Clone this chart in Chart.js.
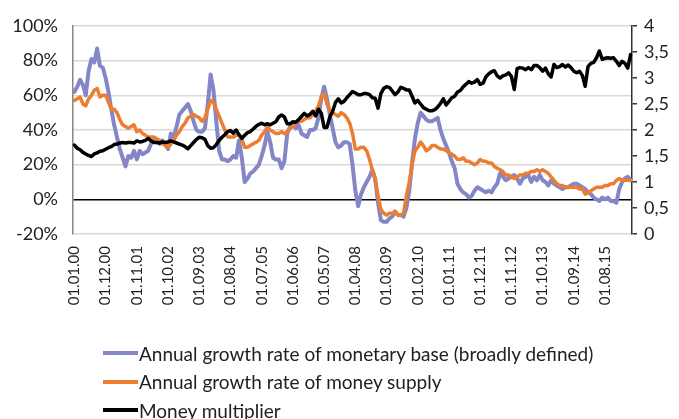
<!DOCTYPE html>
<html>
<head>
<meta charset="utf-8">
<script src="https://cdn.jsdelivr.net/npm/chart.js@4"></script>
<style>
  body { margin: 0; background: #fff; }
  #wrap { position: relative; width: 679px; height: 419px; overflow: hidden; }
  #legend { position: absolute; left: 103px; top: 339px; font-family: Lato, sans-serif; font-size: 19px; color: #222; }
  .item { height: 28.5px; display: flex; align-items: center; white-space: nowrap; }
  .swatch { width: 35px; height: 4px; margin-right: 1px; }
</style>
</head>
<body>
<div id="wrap">
  <canvas id="chart" width="679" height="419"></canvas>
  <div id="legend"></div>
</div>
<script>
// monthly observations, Jan 2000 - May 2016
var seriesNames = [
    "Annual growth rate of monetary base (broadly defined)",
    "Annual growth rate of money supply",
    "Money multiplier"
];
var seriesColors = ["#8486c6", "#ed7d31", "#000000"];

var baseGrowth = [
    62,65,69,66,60,74,81,79,87,77,
    76,70,62,52,43,36,29,24,19,25,
    24,28,23,28,26,27,28,32,35,33,
    32,34,32,29,38,36,42,49,51,53,
    55,51,45,40,39,39,41,55,72,63,
    45,28,23,23,22,23,25,24,34,24,
    10,12,15,16,18,20,25,31,39,33,
    24,23,23,18,22,38,42,43,41,43,
    38,37,36,40,40,41,47,58,65,58,
    49,41,33,30,31,33,33,32,20,5,
    -4,3,7,10,13,17,12,-2,-12,-13,
    -13,-11,-10,-7,-9,-9,-10,-5,5,21,
    35,44,50,48,46,45,45,46,47,40,
    35,31,27,22,18,9,6,4,3,1,
    2,5,7,6,5,4,5,4,7,9,
    15,13,11,12,13,14,12,9,12,13,
    14,10,13,11,14,11,10,8,11,9,
    8,7,6,7,7,8,9,9,8,7,
    6,4,3,1,0,-1,1,0,1,-1,
    -1,-2,6,10,12,13,11
];

var moneyGrowth = [
    57,58,59,55,54,58,60,63,64,59,
    60,60,56,52,52,50,46,43,42,41,
    42,43,39,40,38,37,36,36,36,35,
    34,32,31,30,32,34,37,39,42,44,
    47,48,49,48,47,45,47,52,57,56,
    52,48,44,40,36,36,36,37,37,35,
    30,30,31,32,33,34,37,39,42,40,
    39,38,38,39,38,39,41,42,44,45,
    45,46,47,47,49,51,54,59,61,55,
    51,50,49,48,50,49,47,44,38,29,
    29,30,30,28,23,17,11,2,-6,-8,
    -9,-8,-8,-7,-9,-9,-8,2,10,20,
    28,30,33,31,28,29,31,31,30,29,
    29,28,27,26,25,23,23,24,22,22,
    21,20,21,23,22,22,21,21,19,18,
    17,16,14,14,13,12,13,14,14,15,
    15,16,16,17,16,17,16,15,13,11,
    9,8,8,7,7,7,7,7,6,6,
    3,4,5,6,7,7,7,8,8,9,
    9,11,12,11,11,11,11
];

var multiplier = [
    1.71,1.65,1.62,1.57,1.54,1.51,1.49,1.54,1.56,1.59,
    1.60,1.63,1.66,1.68,1.72,1.73,1.75,1.76,1.75,1.76,
    1.76,1.75,1.79,1.77,1.78,1.80,1.84,1.79,1.76,1.76,
    1.75,1.77,1.76,1.77,1.79,1.77,1.75,1.73,1.71,1.68,
    1.64,1.70,1.76,1.82,1.86,1.85,1.82,1.70,1.65,1.66,
    1.72,1.80,1.86,1.91,1.97,1.99,1.94,2.00,1.91,1.84,
    1.90,1.95,1.97,2.02,2.07,2.11,2.13,2.10,2.12,2.10,
    2.13,2.16,2.25,2.29,2.25,2.12,2.12,2.16,2.15,2.20,
    2.26,2.32,2.27,2.30,2.36,2.27,2.40,2.32,2.05,2.05,
    2.25,2.36,2.53,2.60,2.52,2.55,2.62,2.68,2.74,2.71,
    2.68,2.68,2.70,2.70,2.68,2.62,2.61,2.42,2.70,2.80,
    2.83,2.82,2.75,2.68,2.73,2.82,2.80,2.77,2.77,2.65,
    2.52,2.57,2.50,2.43,2.40,2.37,2.37,2.39,2.44,2.51,
    2.60,2.48,2.55,2.62,2.65,2.73,2.76,2.83,2.88,2.93,
    2.90,2.92,2.97,2.88,2.90,3.02,3.08,3.12,3.14,3.04,
    3.00,3.04,3.06,3.10,3.03,2.78,3.18,3.20,3.19,3.16,
    3.20,3.16,3.24,3.24,3.20,3.13,3.19,3.08,3.02,3.26,
    3.20,3.22,3.26,3.21,3.25,3.20,3.13,3.10,3.13,3.05,
    2.84,3.22,3.28,3.30,3.39,3.52,3.36,3.38,3.39,3.38,
    3.39,3.32,3.24,3.32,3.28,3.19,3.45
];

// category labels 01.MM.YY, one per observation
var months = [];
for (var y = 0; months.length < baseGrowth.length; y++) {
    for (var m = 1; m <= 12 && months.length < baseGrowth.length; m++) {
        months.push("01." + String(m).padStart(2, "0") + "." + String(y).padStart(2, "0"));
    }
}
var labelEvery = 11;

var tickFont = { family: "Lato", size: 18 };

const ctx = document.getElementById("chart").getContext("2d");
const chart = new Chart(ctx, {
    type: "line",
    data: {
        labels: months,
        datasets: [{
            label: seriesNames[0],
            data: baseGrowth,
            borderColor: seriesColors[0],
            borderWidth: 4,
            yAxisID: "y",
            order: 3
        }, {
            label: seriesNames[1],
            data: moneyGrowth,
            borderColor: seriesColors[1],
            borderWidth: 3.5,
            yAxisID: "y",
            order: 2
        }, {
            label: seriesNames[2],
            data: multiplier,
            borderColor: seriesColors[2],
            borderWidth: 3.5,
            yAxisID: "y1",
            order: 1
        }]
    },
    options: {
        responsive: false,
        animation: false,
        devicePixelRatio: 1,
        layout: { padding: { top: 26, left: 0, right: 0, bottom: 0 } },
        elements: {
            point: { radius: 0 },
            line: { tension: 0, borderJoinStyle: "round", borderCapStyle: "round" }
        },
        plugins: {
            legend: { display: false },
            tooltip: { enabled: false }
        },
        scales: {
            x: {
                offset: true,
                grid: { display: false },
                border: { display: false },
                ticks: {
                    autoSkip: false,
                    minRotation: 90,
                    maxRotation: 90,
                    padding: 4,
                    color: "#222",
                    font: { family: "Lato", size: 15 },
                    callback: function(val, idx) {
                        return idx % labelEvery === 0 ? months[idx] : null;
                    }
                },
                afterFit: function(scale) { scale.height = 185; }
            },
            y: {
                position: "left",
                min: -20,
                max: 100,
                ticks: {
                    stepSize: 20,
                    padding: 15,
                    color: "#222",
                    font: tickFont,
                    callback: function(v) { return v + "%"; }
                },
                grid: {
                    drawTicks: false,
                    lineWidth: 1.5,
                    color: function(c) { return c.tick && c.tick.value === 0 ? "#000" : "#d9d9d9"; }
                },
                border: { color: "#868686", width: 1.5 },
                afterFit: function(scale) { scale.width = 73; }
            },
            y1: {
                position: "right",
                min: 0,
                max: 4,
                ticks: {
                    stepSize: 0.5,
                    padding: 7,
                    color: "#222",
                    font: tickFont,
                    callback: function(v) { return String(v).replace(".", ","); }
                },
                grid: {
                    drawOnChartArea: false,
                    tickLength: 5,
                    color: "#333",
                    lineWidth: 1.5
                },
                border: { color: "#333", width: 1.5 },
                afterFit: function(scale) { scale.width = 47; }
            }
        }
    }
});

// legend stacked below the axis labels, one entry per row
var legendDiv = document.getElementById("legend");
seriesNames.forEach(function(name, i) {
    var row = document.createElement("div");
    row.className = "item";
    var sw = document.createElement("span");
    sw.className = "swatch";
    sw.style.background = seriesColors[i];
    var txt = document.createElement("span");
    txt.textContent = name;
    row.appendChild(sw);
    row.appendChild(txt);
    legendDiv.appendChild(row);
});
</script>
</body>
</html>
